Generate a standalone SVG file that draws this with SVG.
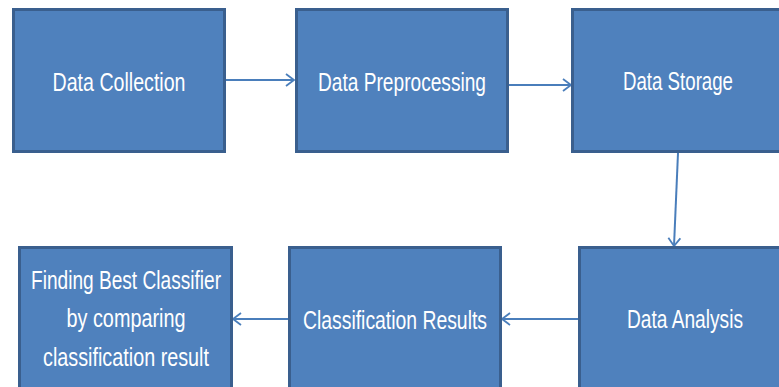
<svg xmlns="http://www.w3.org/2000/svg" width="779" height="387" viewBox="0 0 779 387">
<defs>
<style>
.box{fill:#4f81bd;stroke:#3a5f8e;stroke-width:3}
.t{font-family:"Liberation Sans",Arial,sans-serif;font-size:26px;fill:#ffffff;text-anchor:middle}
.c{fill:none;stroke:#4a7ebb;stroke-width:2}
</style>
<marker id="ah" markerWidth="12" markerHeight="14" refX="10" refY="7" orient="auto" markerUnits="userSpaceOnUse">
<path d="M2,1 L10,7 L2,13" fill="none" stroke="#4a7ebb" stroke-width="1.8"/>
</marker>
</defs>
<rect width="779" height="387" fill="#ffffff"/>
<g id="connectors">
<line class="c" x1="226" y1="80" x2="294" y2="80" marker-end="url(#ah)"/>
<line class="c" x1="509" y1="85" x2="571" y2="85" marker-end="url(#ah)"/>
<line class="c" x1="678" y1="153" x2="674" y2="246" marker-end="url(#ah)"/>
<line class="c" x1="578" y1="319" x2="502" y2="319" marker-end="url(#ah)"/>
<line class="c" x1="288" y1="319" x2="233" y2="319" marker-end="url(#ah)"/>
</g>
<g id="n1"><rect class="box" x="13.5" y="9.5" width="211" height="142"/><text class="t" x="119" y="91" textLength="133" lengthAdjust="spacingAndGlyphs">Data Collection</text></g>
<g id="n2"><rect class="box" x="296.5" y="9.5" width="211" height="142"/><text class="t" x="402" y="91" textLength="168" lengthAdjust="spacingAndGlyphs">Data Preprocessing</text></g>
<g id="n3"><rect class="box" x="572.5" y="9.5" width="215" height="142"/><text class="t" x="678" y="90" textLength="110" lengthAdjust="spacingAndGlyphs">Data Storage</text></g>
<g id="n4"><rect class="box" x="579.5" y="247.5" width="215" height="150"/><text class="t" x="685" y="328" textLength="116" lengthAdjust="spacingAndGlyphs">Data Analysis</text></g>
<g id="n5"><rect class="box" x="289.5" y="247.5" width="211" height="150"/><text class="t" x="395" y="329" textLength="184" lengthAdjust="spacingAndGlyphs">Classification Results</text></g>
<g id="n6"><rect class="box" x="19.5" y="247.5" width="212" height="150"/>
<text class="t" x="126" y="289" textLength="190" lengthAdjust="spacingAndGlyphs">Finding Best Classifier</text>
<text class="t" x="126" y="327" textLength="119" lengthAdjust="spacingAndGlyphs">by comparing</text>
<text class="t" x="126" y="366" textLength="166" lengthAdjust="spacingAndGlyphs">classification result</text></g>
</svg>
